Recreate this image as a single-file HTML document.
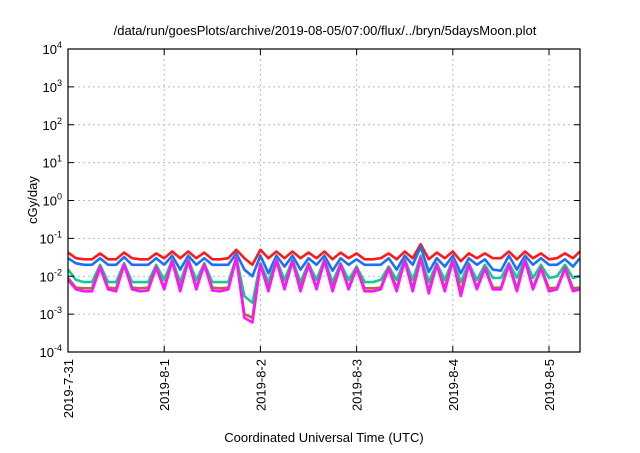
<!DOCTYPE html>
<html><head><meta charset="utf-8"><style>
body{margin:0;background:#fff;font-family:"Liberation Sans",sans-serif}
svg text{font-family:"Liberation Sans",sans-serif;fill:#000}
</style></head><body>
<svg id="c" width="640" height="448" viewBox="0 0 640 448">
<text x="325" y="35" font-size="13" text-anchor="middle">/data/run/goesPlots/archive/2019-08-05/07:00/flux/../bryn/5daysMoon.plot</text>
<text x="0" y="0" font-size="13" text-anchor="middle" transform="translate(37,200) rotate(-90)">cGy/day</text>
<text x="324" y="442" font-size="13" text-anchor="middle">Coordinated Universal Time (UTC)</text>
<g id="grid"></g><g id="series"></g><g id="axes"></g>
</svg>
<script>
const dayLabels=["2019-7-31","2019-8-1","2019-8-2","2019-8-3","2019-8-4","2019-8-5"];
const yExps=[-4,-3,-2,-1,0,1,2,3,4];
const red=[0.042,0.03,0.028,0.028,0.04,0.028,0.028,0.042,0.03,0.028,0.028,0.04,0.03,0.045,0.03,0.045,0.03,0.042,0.028,0.028,0.03,0.05,0.03,0.02,0.05,0.03,0.045,0.03,0.045,0.03,0.042,0.03,0.045,0.028,0.042,0.03,0.04,0.028,0.028,0.03,0.04,0.028,0.045,0.03,0.07,0.028,0.042,0.03,0.045,0.025,0.04,0.03,0.04,0.03,0.03,0.045,0.028,0.045,0.03,0.04,0.028,0.03,0.04,0.03,0.045];
const blue=[0.03,0.022,0.02,0.02,0.03,0.02,0.02,0.032,0.02,0.02,0.02,0.03,0.02,0.035,0.015,0.035,0.02,0.03,0.02,0.02,0.02,0.04,0.015,0.01,0.035,0.012,0.035,0.018,0.035,0.015,0.03,0.02,0.035,0.014,0.03,0.02,0.028,0.02,0.02,0.02,0.03,0.015,0.035,0.02,0.06,0.013,0.03,0.018,0.035,0.012,0.03,0.02,0.028,0.015,0.014,0.035,0.015,0.035,0.02,0.03,0.02,0.02,0.028,0.018,0.03];
const green=[0.015,0.008,0.007,0.007,0.02,0.007,0.007,0.022,0.007,0.007,0.007,0.02,0.008,0.027,0.007,0.028,0.008,0.022,0.007,0.007,0.007,0.032,0.003,0.002,0.022,0.007,0.028,0.008,0.027,0.007,0.022,0.008,0.028,0.007,0.022,0.008,0.018,0.007,0.007,0.008,0.018,0.008,0.028,0.008,0.035,0.007,0.022,0.008,0.028,0.007,0.022,0.008,0.02,0.009,0.009,0.022,0.009,0.028,0.009,0.02,0.009,0.01,0.02,0.009,0.01];
const brown=[0.009,0.005,0.0048,0.0048,0.018,0.005,0.0048,0.021,0.005,0.0048,0.005,0.018,0.005,0.026,0.0048,0.027,0.005,0.021,0.005,0.0048,0.005,0.031,0.001,0.0008,0.021,0.0048,0.027,0.005,0.026,0.0048,0.021,0.005,0.027,0.0048,0.021,0.005,0.017,0.0048,0.0048,0.005,0.017,0.0048,0.027,0.0048,0.031,0.0042,0.021,0.0048,0.027,0.004,0.021,0.005,0.017,0.005,0.005,0.021,0.0048,0.027,0.005,0.017,0.0048,0.005,0.017,0.0048,0.005];
const magenta=[0.008,0.0045,0.004,0.004,0.017,0.0045,0.004,0.02,0.0045,0.004,0.0042,0.017,0.0045,0.025,0.004,0.026,0.0045,0.02,0.0042,0.004,0.0045,0.03,0.0008,0.0006,0.02,0.004,0.026,0.0045,0.025,0.004,0.02,0.0045,0.026,0.004,0.02,0.0045,0.016,0.004,0.004,0.0045,0.016,0.004,0.026,0.004,0.03,0.0035,0.02,0.004,0.026,0.003,0.02,0.0045,0.016,0.0045,0.0045,0.02,0.004,0.026,0.0045,0.016,0.004,0.0045,0.016,0.004,0.0045];
const hoursStep=2;
const X0=68,X1=580,Y0=352,Y1=49,PXD=96.2;
const sx=h=>X0+h/24*PXD;
const sy=v=>Y0-(Math.log10(v)+4)*(Y0-Y1)/8;
const NS="http://www.w3.org/2000/svg";
function mk(t,a,p){const e=document.createElementNS(NS,t);for(const k in a)e.setAttribute(k,a[k]);p.appendChild(e);return e;}
const grid=document.getElementById('grid'),axes=document.getElementById('axes'),ser=document.getElementById('series');
yExps.forEach(ex=>{
  const y=sy(Math.pow(10,ex));
  if(ex>-4&&ex<4){const g=mk('line',{x1:X0,x2:X1,y1:y,y2:y,stroke:'#bbb','stroke-dasharray':'2,3','stroke-width':1},grid);
  
  }
  const t=mk('text',{x:62,y:y+5,'font-size':13,'text-anchor':'end'},axes);
  
  
  t.innerHTML='10<tspan dy="-6" font-size="9">'+ex+'</tspan>';
  mk('line',{x1:X0,x2:X0+6,y1:y,y2:y,stroke:'#000'},axes);
  mk('line',{x1:X1,x2:X1-6,y1:y,y2:y,stroke:'#000'},axes);
});
dayLabels.forEach((d,i)=>{
  const x=sx(i*24);
  if(i>0){const g=mk('line',{x1:x,x2:x,y1:Y1,y2:Y0,stroke:'#bbb','stroke-dasharray':'2,3','stroke-width':1},grid);
  
  }
  mk('line',{x1:x,x2:x,y1:Y0,y2:Y0-6,stroke:'#000'},axes);
  mk('line',{x1:x,x2:x,y1:Y1,y2:Y1+6,stroke:'#000'},axes);
  const t=mk('text',{x:0,y:0,'font-size':13,'text-anchor':'end',transform:`translate(${x+5},${Y0+7}) rotate(-90)`},axes);
  
  
  t.textContent=d;
});
const fr=mk('rect',{x:X0,y:Y1,width:X1-X0,height:Y0-Y1,fill:'none',stroke:'#000','stroke-width':1.2},axes);


const list=[[red,'#ff1a1a','series-red'],[blue,'#1a6fff','series-blue'],[green,'#12c99a','series-green'],[brown,'#b06a40','series-brown'],[magenta,'#ff14ff','series-magenta']];
list.forEach(([arr,col,nm])=>{
  const pts=arr.map((v,i)=>sx(Math.min(i*hoursStep,127.7)).toFixed(1)+','+sy(v).toFixed(1)).join(' ');
  const p=mk('polyline',{points:pts,fill:'none',stroke:col,'stroke-width':2.6,'stroke-linejoin':'round'},ser);
  
  
});
</script>
</body></html>
